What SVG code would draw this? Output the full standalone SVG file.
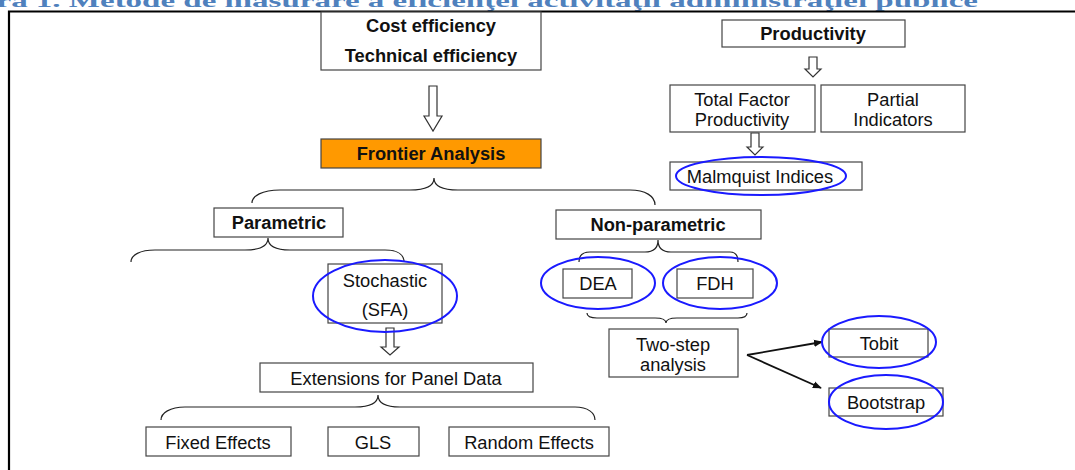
<svg xmlns="http://www.w3.org/2000/svg" width="1075" height="470" viewBox="0 0 1075 470">
<defs>
<style>
.box{fill:#fff;stroke:#444;stroke-width:1.2}
.t{font-family:"Liberation Sans",Arial,sans-serif;font-size:18.3px;fill:#111;text-anchor:middle}
.b{font-family:"Liberation Sans",Arial,sans-serif;font-size:18.3px;font-weight:bold;fill:#111;text-anchor:middle}
.ell{fill:none;stroke:#1a1aff;stroke-width:2}
.brace{fill:none;stroke:#222;stroke-width:1.2}
.harrow{fill:#fff;stroke:#333;stroke-width:1.2}
.line{stroke:#111;stroke-width:1.8;fill:none}
</style>
<marker id="ah" viewBox="0 0 10 10" refX="9" refY="5" markerWidth="5" markerHeight="5" orient="auto">
<path d="M0,1 L10,5 L0,9 z" fill="#111"/>
</marker>
</defs>
<rect width="1075" height="470" fill="#fff"/>
<text transform="translate(978,6.5) scale(1,0.6)" text-anchor="end" font-family="'Liberation Serif','Times New Roman',serif" font-weight="bold" font-size="33" fill="#4f81bd">Figura 1. Metode de măsurare a eficienţei activităţii administraţiei publice</text>
<path d="M9,470 V11.5 H1075" fill="none" stroke="#000" stroke-width="2.2"/>

<g id="connectors">
<path class="harrow" d="M429,86 H437 V116 H442 L433,131 L424,116 H429 Z"/>
<path class="harrow" d="M809,57 H817 V69 H821 L813,77 L805,69 H809 Z"/>
<path class="harrow" d="M751,133 H759 V147 H763 L755,155 L747,147 H751 Z"/>
<path class="harrow" d="M386,328 H394 V347 H399 L390,355 L381,347 H386 Z"/>
<path class="brace" d="M252,203 C252,196 262,190 280,190 H410 C425,190 434,186 434,178 C434,186 443,190 458,190 H630 C645,190 655,196 655,205"/>
<path class="brace" d="M131,262 C131,255 140,250 155,250 H245 C260,250 268,246 268,238 C268,246 276,250 290,250 H385 C398,250 404,255 404,262"/>
<path class="brace" d="M161,420 C161,413 170,407 185,407 H355 C370,407 378,403 378,395 C378,403 386,407 400,407 H575 C588,407 595,413 595,420"/>
<path class="brace" d="M579,262 C579,256 582,252 590,252 H645 C653,252 658,248 658,240 C658,248 663,252 671,252 H730 C736,252 738,256 738,262"/>
<path class="brace" d="M587,313 C587,316 590,318 597,318 H655 C662,318 666,320 666,323 C666,320 670,318 677,318 H738 C744,318 747,316 747,313"/>
<path class="line" d="M747,355 L822,342" marker-end="url(#ah)"/>
<path class="line" d="M747,355 L821,388" marker-end="url(#ah)"/>
</g>

<g id="cost"><rect class="box" x="321" y="12" width="220" height="58"/><text class="b" x="431" y="32">Cost efficiency</text><text class="b" x="431" y="62">Technical efficiency</text></g>
<g id="productivity"><rect class="box" x="722" y="20" width="183" height="27"/><text class="b" x="813" y="40">Productivity</text></g>
<g id="tfp"><rect class="box" x="670" y="85" width="145" height="47"/><text class="t" x="742" y="106">Total Factor</text><text class="t" x="742" y="126">Productivity</text></g>
<g id="partial"><rect class="box" x="821" y="85" width="144" height="47"/><text class="t" x="893" y="106">Partial</text><text class="t" x="893" y="126">Indicators</text></g>
<g id="malmquist"><rect class="box" x="670" y="162" width="192" height="28"/><text class="t" x="760" y="183">Malmquist Indices</text><ellipse class="ell" cx="761" cy="176" rx="85" ry="19"/></g>
<g id="frontier"><rect x="321" y="139" width="220" height="29" fill="#ff9900" stroke="#444" stroke-width="1.2"/><text class="b" x="431" y="160">Frontier Analysis</text></g>
<g id="parametric"><rect class="box" x="214" y="208" width="129" height="29"/><text class="b" x="279" y="229">Parametric</text></g>
<g id="nonparametric"><rect class="box" x="556" y="210" width="205" height="29"/><text class="b" x="658" y="231">Non-parametric</text></g>
<g id="stochastic"><rect class="box" x="328" y="264" width="114" height="59"/><text class="t" x="385" y="287">Stochastic</text><text class="t" x="385" y="316">(SFA)</text><ellipse class="ell" cx="385" cy="296" rx="72" ry="36"/></g>
<g id="dea"><rect class="box" x="563" y="269" width="69" height="29"/><text class="t" x="598" y="290">DEA</text><ellipse class="ell" cx="598" cy="283" rx="57" ry="26"/></g>
<g id="fdh"><rect class="box" x="677" y="269" width="76" height="29"/><text class="t" x="715" y="290">FDH</text><ellipse class="ell" cx="720" cy="283" rx="57" ry="26"/></g>
<g id="twostep"><rect class="box" x="609" y="329" width="129" height="48"/><text class="t" x="673" y="351">Two-step</text><text class="t" x="673" y="371">analysis</text></g>
<g id="tobit"><rect class="box" x="829" y="329" width="99" height="28"/><text class="t" x="879" y="350">Tobit</text><ellipse class="ell" cx="879" cy="342" rx="57" ry="26"/></g>
<g id="bootstrap"><rect class="box" x="829" y="388" width="114" height="28"/><text class="t" x="886" y="409">Bootstrap</text><ellipse class="ell" cx="886" cy="402" rx="57" ry="27"/></g>
<g id="extensions"><rect class="box" x="260" y="363" width="273" height="29"/><text class="t" x="396" y="385">Extensions for Panel Data</text></g>
<g id="fixed"><rect class="box" x="146" y="427" width="145" height="29"/><text class="t" x="218" y="449">Fixed Effects</text></g>
<g id="gls"><rect class="box" x="328" y="427" width="91" height="29"/><text class="t" x="373" y="449">GLS</text></g>
<g id="random"><rect class="box" x="449" y="427" width="160" height="29"/><text class="t" x="529" y="449">Random Effects</text></g>
</svg>
